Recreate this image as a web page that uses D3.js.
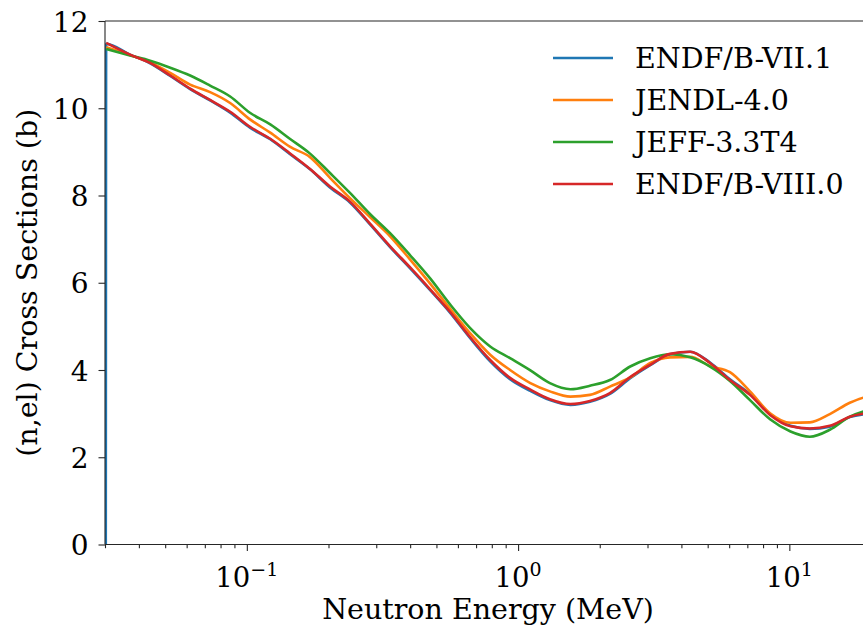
<!DOCTYPE html>
<meta charset="utf-8">
<style>
body { margin: 0; background: #fff; }
text { font-family: "DejaVu Serif", serif; fill: #000; }
.axis path, .axis line { stroke: #262626; stroke-width: 1.1; }
.curve { fill: none; stroke-width: 2.6; stroke-linejoin: round; }
</style>
<body>
<svg width="863" height="630"></svg>
<script src="https://cdn.jsdelivr.net/npm/d3@7/dist/d3.min.js"></script>
<script>

// energy grid (MeV)
var energy = [0.0303, 0.0371, 0.044, 0.0522, 0.0618, 0.0732, 0.0868, 0.103, 0.122, 0.144,
              0.171, 0.203, 0.240, 0.285, 0.338, 0.400, 0.474, 0.562, 0.666, 0.789,
              0.934, 1.11, 1.31, 1.56, 1.84, 2.18, 2.59, 3.07, 3.63, 4.31,
              5.10, 6.04, 7.16, 8.49, 10.1, 11.9, 14.1, 16.7, 20.0];

// elastic cross sections (b)
var endf71 = [11.48, 11.23, 11.03, 10.74, 10.44, 10.18, 9.90, 9.55, 9.29, 8.95,
              8.60, 8.18, 7.84, 7.33, 6.81, 6.33, 5.83, 5.31, 4.73, 4.20,
              3.79, 3.52, 3.31, 3.20, 3.27, 3.45, 3.81, 4.11, 4.36, 4.42,
              4.17, 3.79, 3.45, 2.99, 2.72, 2.65, 2.70, 2.92, 3.00];
var jendl40 = [11.40, 11.22, 11.05, 10.81, 10.54, 10.37, 10.12, 9.74, 9.44, 9.12,
               8.88, 8.40, 7.94, 7.50, 7.06, 6.53, 5.98, 5.40, 4.84, 4.35,
               4.00, 3.70, 3.51, 3.39, 3.43, 3.62, 3.83, 4.16, 4.29, 4.30,
               4.09, 3.95, 3.51, 3.01, 2.79, 2.80, 2.99, 3.25, 3.42];
var jeff33 = [11.36, 11.21, 11.09, 10.93, 10.75, 10.52, 10.27, 9.89, 9.63, 9.30,
              8.96, 8.51, 8.06, 7.57, 7.13, 6.63, 6.10, 5.50, 4.96, 4.54,
              4.27, 3.99, 3.70, 3.56, 3.64, 3.77, 4.08, 4.27, 4.36, 4.29,
              4.08, 3.75, 3.31, 2.87, 2.59, 2.47, 2.63, 2.93, 3.10];
var endf80 = [11.50, 11.23, 11.04, 10.75, 10.45, 10.19, 9.92, 9.57, 9.30, 8.97,
              8.61, 8.20, 7.86, 7.35, 6.83, 6.35, 5.85, 5.33, 4.75, 4.23,
              3.82, 3.55, 3.33, 3.22, 3.29, 3.47, 3.84, 4.12, 4.37, 4.42,
              4.16, 3.77, 3.43, 2.97, 2.71, 2.66, 2.72, 2.93, 3.02];

var labels = ["ENDF/B-VII.1", "JENDL-4.0", "JEFF-3.3T4", "ENDF/B-VIII.0"];
var colors = ["#1f77b4", "#ff7f0e", "#2ca02c", "#d62728"];

var yTicks = [0, 2, 4, 6, 8, 10, 12];
var xMajor = [0.1, 1, 10];
var xMajorExp = ["\u22121", "0", "1"];
var xMinor = [0.03, 0.04, 0.05, 0.06, 0.07, 0.08, 0.09,
              0.2, 0.3, 0.4, 0.5, 0.6, 0.7, 0.8, 0.9,
              2, 3, 4, 5, 6, 7, 8, 9, 20];

var svg = d3.select("svg");
var mLeft = 105, mRight = 871, mTop = 21, mBottom = 544.5;

var x = d3.scaleLog().domain([0.03, 20]).range([mLeft, mRight]);
var y = d3.scaleLinear().domain([0, 12]).range([mBottom, mTop]);

svg.append("clipPath").attr("id", "clip")
  .append("rect")
    .attr("x", mLeft).attr("y", mTop)
    .attr("width", mRight - mLeft).attr("height", mBottom - mTop);

var series = [
  { name: labels[0], e: [0.0302].concat(energy), s: [0].concat(endf71) },
  { name: labels[1], e: energy, s: jendl40 },
  { name: labels[2], e: energy, s: jeff33 },
  { name: labels[3], e: energy, s: endf80 }
];

var line = d3.line()
    .x(function(d) { return x(d[0]); })
    .y(function(d) { return y(d[1]); })
    .curve(d3.curveMonotoneX);

svg.append("g")
    .attr("clip-path", "url(#clip)")
  .selectAll("path")
  .data(series)
  .enter().append("path")
    .attr("class", "curve")
    .attr("stroke", function(d, i) { return colors[i]; })
    .attr("d", function(d) { return line(d3.zip(d.e, d.s)); });

// top spine
svg.append("line")
    .attr("x1", mLeft).attr("x2", mRight).attr("y1", mTop).attr("y2", mTop)
    .attr("stroke", "#262626").attr("stroke-width", 1.1);

// x axis
var gx = svg.append("g").attr("class", "axis")
    .attr("transform", "translate(0," + mBottom + ")");
gx.append("g").call(d3.axisBottom(x).tickValues(xMinor).tickSize(3.7).tickFormat(""));
gx.append("g").call(d3.axisBottom(x).tickValues(xMajor).tickSize(6.5).tickFormat(""));
gx.selectAll(".domain").attr("d", "M" + mLeft + ",0H" + mRight);

var xl = gx.selectAll(".xlab")
  .data(xMajor)
  .enter().append("text")
    .attr("class", "xlab")
    .attr("x", function(d) { return x(d); })
    .attr("y", 42)
    .attr("text-anchor", "middle")
    .style("font-size", "27.5px");
xl.append("tspan").text("10");
xl.append("tspan")
    .attr("dy", -11)
    .style("font-size", "19px")
    .text(function(d, i) { return xMajorExp[i]; });

// y axis
var gy = svg.append("g").attr("class", "axis")
    .attr("transform", "translate(" + mLeft + ",0)");
gy.call(d3.axisLeft(y).tickValues(yTicks).tickSize(6.5).tickPadding(10)
    .tickFormat(d3.format("d")));
gy.select(".domain").attr("d", "M0," + mTop + "V" + mBottom);
gy.selectAll("text").style("font-size", "28px").attr("dy", "0.36em")
    .attr("font-family", null);

// axis titles
svg.append("text")
    .attr("x", (mLeft + mRight) / 2)
    .attr("y", 619)
    .attr("text-anchor", "middle")
    .style("font-size", "28.5px")
    .text("Neutron Energy (MeV)");

svg.append("text")
    .attr("transform", "translate(37," + ((mTop + mBottom) / 2) + ") rotate(-90)")
    .attr("text-anchor", "middle")
    .style("font-size", "28.5px")
    .text("(n,el) Cross Sections (b)");

// legend
var lg = svg.append("g").attr("transform", "translate(553,58)");
var row = lg.selectAll("g")
  .data(labels)
  .enter().append("g")
    .attr("transform", function(d, i) { return "translate(0," + (i * 42) + ")"; });
row.append("line")
    .attr("x1", 0).attr("x2", 60)
    .attr("stroke", function(d, i) { return colors[i]; })
    .attr("stroke-width", 2.6);
row.append("text")
    .attr("x", 82)
    .attr("dy", "0.36em")
    .style("font-size", "28.5px")
    .text(function(d) { return d; });

</script>
</body>
